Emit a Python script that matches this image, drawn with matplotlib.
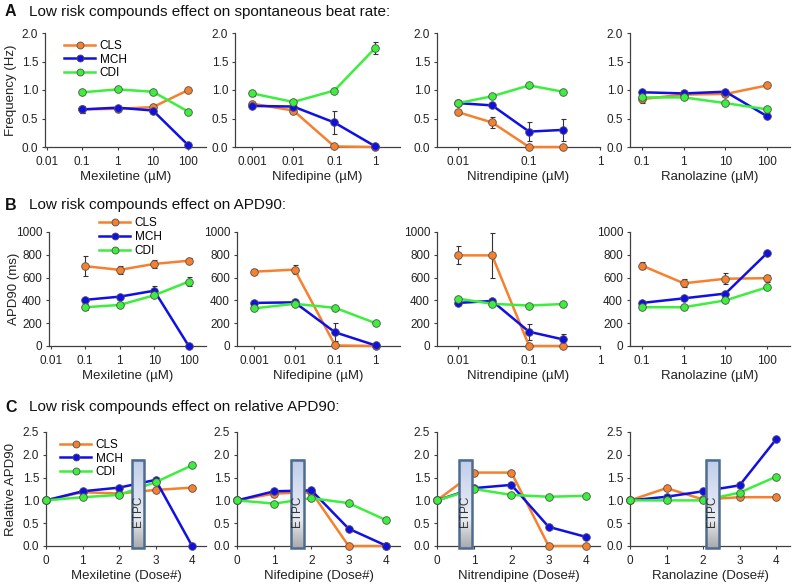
import matplotlib
matplotlib.use("Agg")
import matplotlib.pyplot as plt
import numpy as np
from matplotlib.patches import Rectangle
from matplotlib.colors import LinearSegmentedColormap

plt.rcParams["font.family"] = ["Liberation Sans", "DejaVu Sans"]

# ---------------------------------------------------------------------------
# Data
# ---------------------------------------------------------------------------
SERIES = ["CLS", "MCH", "CDI"]
COLORS = {"CLS": "#f7802f", "MCH": "#1010e6", "CDI": "#3cef3c"}

DRUGS = ["Mexiletine", "Nifedipine", "Nitrendipine", "Ranolazine"]
conc = {
    "Mexiletine": [0.1, 1, 10, 100],
    "Nifedipine": [0.001, 0.01, 0.1, 1],
    "Nitrendipine": [0.01, 0.03, 0.1, 0.3],
    "Ranolazine": [0.1, 1, 10, 100],
}
conc_ticks = {
    "Mexiletine": [0.01, 0.1, 1, 10, 100],
    "Nifedipine": [0.001, 0.01, 0.1, 1],
    "Nitrendipine": [0.01, 0.1, 1],
    "Ranolazine": [0.1, 1, 10, 100],
}
# log10 limits of each concentration axis
conc_xlim = {
    "Mexiletine": (-2.05, 2.5),
    "Nifedipine": (-3.42, 0.6),
    "Nitrendipine": (-2.3, 0.0),
    "Ranolazine": (-1.29, 2.55),
}

# A: spontaneous beat rate (Hz)
freq = {
    "Mexiletine": {"CLS": [0.66, 0.67, 0.70, 1.00],
                   "MCH": [0.66, 0.69, 0.64, 0.03],
                   "CDI": [0.96, 1.01, 0.97, 0.62]},
    "Nifedipine": {"CLS": [0.76, 0.64, 0.01, 0.0],
                   "MCH": [0.72, 0.71, 0.43, 0.01],
                   "CDI": [0.94, 0.79, 0.99, 1.74]},
    "Nitrendipine": {"CLS": [0.61, 0.43, 0.0, 0.0],
                     "MCH": [0.77, 0.73, 0.27, 0.30],
                     "CDI": [0.77, 0.89, 1.08, 0.97]},
    "Ranolazine": {"CLS": [0.84, 0.92, 0.93, 1.08],
                   "MCH": [0.96, 0.94, 0.97, 0.54],
                   "CDI": [0.87, 0.87, 0.77, 0.66]},
}
freq_err = {
    "Mexiletine": {"CLS": [0.06, 0.04, 0.06, 0.0],
                   "MCH": [0.06, 0.03, 0.0, 0.0],
                   "CDI": [0.0, 0.0, 0.0, 0.0]},
    "Nifedipine": {"CLS": [0.03, 0.03, 0.0, 0.0],
                   "MCH": [0.0, 0.0, 0.20, 0.0],
                   "CDI": [0.04, 0.03, 0.0, 0.11]},
    "Nitrendipine": {"CLS": [0.0, 0.09, 0.0, 0.0],
                     "MCH": [0.0, 0.0, 0.17, 0.19],
                     "CDI": [0.0, 0.0, 0.0, 0.0]},
    "Ranolazine": {"CLS": [0.06, 0.0, 0.0, 0.0],
                   "MCH": [0.0, 0.0, 0.0, 0.0],
                   "CDI": [0.0, 0.0, 0.0, 0.0]},
}

# B: APD90 (ms)
apd = {
    "Mexiletine": {"CLS": [700, 668, 720, 748],
                   "MCH": [405, 433, 485, 0],
                   "CDI": [340, 360, 445, 565]},
    "Nifedipine": {"CLS": [652, 670, 5, 0],
                   "MCH": [378, 383, 120, 5],
                   "CDI": [330, 370, 335, 200]},
    "Nitrendipine": {"CLS": [795, 795, 0, 0],
                     "MCH": [378, 395, 125, 58],
                     "CDI": [415, 370, 355, 368]},
    "Ranolazine": {"CLS": [705, 550, 590, 595],
                   "MCH": [378, 418, 460, 815],
                   "CDI": [340, 340, 400, 515]},
}
apd_err = {
    "Mexiletine": {"CLS": [90, 35, 35, 20],
                   "MCH": [0, 0, 40, 0],
                   "CDI": [25, 0, 0, 40]},
    "Nifedipine": {"CLS": [20, 40, 0, 0],
                   "MCH": [0, 0, 80, 0],
                   "CDI": [0, 0, 0, 0]},
    "Nitrendipine": {"CLS": [80, 195, 0, 0],
                     "MCH": [20, 0, 70, 50],
                     "CDI": [0, 0, 0, 0]},
    "Ranolazine": {"CLS": [30, 35, 50, 30],
                   "MCH": [0, 0, 0, 0],
                   "CDI": [0, 0, 0, 0]},
}

# C: relative APD90 by dose number
doses = [0, 1, 2, 3, 4]
rel = {
    "Mexiletine": {"CLS": [1.0, 1.18, 1.15, 1.23, 1.28],
                   "MCH": [1.0, 1.20, 1.28, 1.45, 0.0],
                   "CDI": [1.0, 1.07, 1.12, 1.40, 1.77]},
    "Nifedipine": {"CLS": [1.0, 1.15, 1.18, 0.0, 0.0],
                   "MCH": [1.0, 1.20, 1.22, 0.38, 0.01],
                   "CDI": [1.0, 0.93, 1.05, 0.94, 0.57]},
    "Nitrendipine": {"CLS": [1.0, 1.61, 1.61, 0.0, 0.0],
                     "MCH": [1.0, 1.27, 1.34, 0.42, 0.20],
                     "CDI": [1.0, 1.25, 1.12, 1.08, 1.10]},
    "Ranolazine": {"CLS": [1.0, 1.27, 1.02, 1.07, 1.07],
                   "MCH": [1.0, 1.08, 1.20, 1.33, 2.34],
                   "CDI": [1.0, 1.0, 1.0, 1.17, 1.52]},
}
# ETPC box span (dose units) for each drug
etpc_span = {
    "Mexiletine": (2.35, 2.67),
    "Nifedipine": (1.45, 1.79),
    "Nitrendipine": (0.6, 0.93),
    "Ranolazine": (2.08, 2.43),
}

ROW_TITLES = [
    ("A", "Low risk compounds effect on spontaneous beat rate:"),
    ("B", "Low risk compounds effect on APD90:"),
    ("C", "Low risk compounds effect on relative APD90:"),
]
YLABELS = ["Frequency (Hz)", "APD90 (ms)", "Relative APD90"]

# ---------------------------------------------------------------------------
# Layout (pixel based, figure is 800 x 585)
# ---------------------------------------------------------------------------
W, H = 800, 585
COL_LEFT = [[45, 235, 437, 630],
            [49, 237, 437, 630],
            [46, 237, 437, 630]]
COL_RIGHT = [206, 400, 600, 790]
ROW_TOP = [33, 232, 432]
AX_H = 114
YLABEL_X = [17, 20, 17]        # pixel x of the y-label baseline side, per row
LEGEND_ANCHOR = [(0.12, 0.94), (0.32, 1.13), (0.09, 0.94)]

etpc_cmap = LinearSegmentedColormap.from_list(
    "etpc", ["#a9a9ab", "#e9ecf2", "#d6def0", "#bfcdea"])


def style_axes(ax):
    for s in ["top", "right"]:
        ax.spines[s].set_visible(False)
    for s in ["left", "bottom"]:
        ax.spines[s].set_color("#404040")
        ax.spines[s].set_linewidth(0.9)
    ax.tick_params(axis="both", labelsize=8.5, colors="#404040",
                   labelcolor="#222222", length=2.5, width=0.8, direction="out")
    ax.tick_params(axis="x", pad=4)
    ax.tick_params(axis="y", pad=2.5)
    ax.minorticks_off()


def draw_series(ax, x, y, color, yerr=None):
    if yerr is not None and any(e > 0 for e in yerr):
        ax.errorbar(x, y, yerr=yerr, fmt="none", ecolor="#333333",
                    elinewidth=0.8, capsize=1.8, capthick=0.8, zorder=2, clip_on=False)
    ax.plot(x, y, "-o", color=color, lw=1.8, ms=5.5, mfc=color,
            mec="#505050", mew=0.6, zorder=3, clip_on=False)


fig = plt.figure(figsize=(W / 100, H / 100), dpi=100)

for r in range(3):
    for c, drug in enumerate(DRUGS):
        lpx = COL_LEFT[r][c]
        left = lpx / W
        width = (COL_RIGHT[c] - lpx) / W
        bottom = (H - ROW_TOP[r] - AX_H) / H
        ax = fig.add_axes([left, bottom, width, AX_H / H])
        style_axes(ax)

        if r < 2:
            data = freq if r == 0 else apd
            errs = freq_err if r == 0 else apd_err
            ax.set_xscale("log")
            lo, hi = conc_xlim[drug]
            ax.set_xlim(10 ** lo, 10 ** hi)
            ax.set_xticks(conc_ticks[drug])
            ax.set_xticklabels([f"{v:g}" for v in conc_ticks[drug]])
            ax.minorticks_off()
            for s in SERIES:
                draw_series(ax, conc[drug], data[drug][s], COLORS[s], errs[drug][s])
            ax.set_xlabel(f"{drug} (µM)", fontsize=9.5, color="#222222", labelpad=2)
            if r == 0:
                yt = np.arange(0, 2.01, 0.5)
                ax.set_ylim(0, 2.0)
                ax.set_yticks(yt)
                ax.set_yticklabels([f"{v:.1f}" for v in yt])
            else:
                ax.set_ylim(0, 1000)
                ax.set_yticks(np.arange(0, 1001, 200))
        else:
            for s in SERIES:
                draw_series(ax, doses, rel[drug][s], COLORS[s])
            x0, x1 = etpc_span[drug]
            grad = np.linspace(0, 1, 256).reshape(-1, 1)
            ax.imshow(grad, cmap=etpc_cmap, origin="lower", aspect="auto",
                      extent=(x0, x1, -0.05, 1.88), zorder=4, clip_on=False)
            ax.add_patch(Rectangle((x0, -0.05), x1 - x0, 1.93, fill=False,
                                   ec="#4d6c90", lw=1.8, zorder=5, clip_on=False))
            ax.text((x0 + x1) / 2, 0.76, "ETPC", rotation=90, ha="center",
                    va="center", fontsize=8.5, color="#333333", zorder=6)
            ax.set_xlim(0, 4.38)
            ax.set_xticks(doses)
            yt = np.arange(0, 2.51, 0.5)
            ax.set_ylim(0, 2.5)
            ax.set_yticks(yt)
            ax.set_yticklabels([f"{v:.1f}" for v in yt])
            ax.set_xlabel(f"{drug} (Dose#)", fontsize=9.5, color="#222222", labelpad=2)

        if c == 0:
            ax.set_ylabel(YLABELS[r], fontsize=9.5, color="#222222")
            ax.yaxis.set_label_coords((YLABEL_X[r] - lpx) / (COL_RIGHT[c] - lpx), 0.5)
            handles = [plt.Line2D([], [], color=COLORS[s], lw=1.8, marker="o", ms=5,
                                  mfc=COLORS[s], mec="#505050", mew=0.6) for s in SERIES]
            ax.legend(handles, SERIES, loc="upper left", bbox_to_anchor=LEGEND_ANCHOR[r],
                      frameon=False, fontsize=8.5, handlelength=2.6, handletextpad=0.4,
                      labelspacing=0.15, borderaxespad=0, borderpad=0, numpoints=1)

# row titles
title_y = [12, 205, 407]
for r, (letter, text) in enumerate(ROW_TITLES):
    fig.text(5 / W, 1 - title_y[r] / H, letter, fontsize=11.5, fontweight="bold",
             va="center", ha="left", color="#111111")
    fig.text(29 / W, 1 - title_y[r] / H, text, fontsize=11,
             va="center", ha="left", color="#111111")

fig.savefig("out.png", dpi=100)
